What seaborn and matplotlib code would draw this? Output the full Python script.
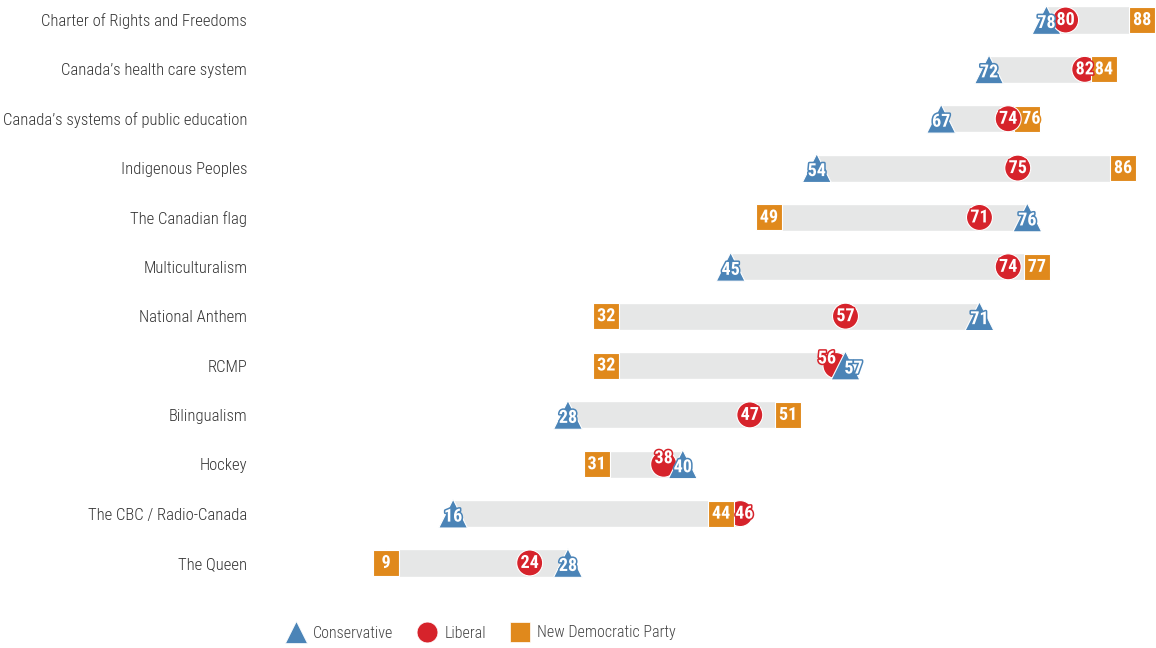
import matplotlib
matplotlib.use("Agg")
import matplotlib.pyplot as plt
from matplotlib import font_manager as fm
from matplotlib.lines import Line2D
import matplotlib.patheffects as pe
import seaborn as sns
import pandas as pd
import numpy as np

# ---------------- data ----------------
categories = [
    "Charter of Rights and Freedoms",
    "Canada\u2019s health care system",
    "Canada\u2019s systems of public education",
    "Indigenous Peoples",
    "The Canadian flag",
    "Multiculturalism",
    "National Anthem",
    "RCMP",
    "Bilingualism",
    "Hockey",
    "The CBC / Radio-Canada",
    "The Queen",
]
conservative = [78, 72, 67, 54, 76, 45, 71, 57, 28, 40, 16, 28]
liberal = [80, 82, 74, 75, 71, 74, 57, 56, 47, 38, 46, 24]
ndp = [88, 84, 76, 86, 49, 77, 32, 32, 51, 31, 44, 9]
parties = ["Conservative", "Liberal", "New Democratic Party"]

# ---------------- style ----------------
colors = {"Conservative": "#4b84b7", "Liberal": "#d6232b", "New Democratic Party": "#e0891c"}
markers = {"Conservative": "^", "Liberal": "o", "New Democratic Party": "s"}
sizes = {"Conservative": 430, "Liberal": 350, "New Democratic Party": 350}
# which marker sits on top when markers overlap
on_top = {
    "Charter of Rights and Freedoms": "Liberal",
    "RCMP": "Conservative",
    "Hockey": "Conservative",
    "The CBC / Radio-Canada": "New Democratic Party",
    "Canada\u2019s systems of public education": "Liberal",
}
# label nudges in pixels (dx right, dy down)
nudges = {
    ("RCMP", "Liberal"): (-9, -7),
    ("RCMP", "Conservative"): (8, 3),
    ("Hockey", "Liberal"): (0, -6),
    ("Hockey", "Conservative"): (0, 3),
    ("The CBC / Radio-Canada", "Liberal"): (4, 0),
    ("Canada\u2019s systems of public education", "New Democratic Party"): (4, 0),
}

available = {f.name for f in fm.fontManager.ttflist}
cond = None
for cand in ["Liberation Sans Narrow", "Roboto Condensed", "Open Sans Condensed", "DejaVu Sans"]:
    if cand in available:
        cond = cand
        break

sns.set_theme(style="white")
plt.rcParams["font.family"] = [cond, "DejaVu Sans"]

W, H, DPI = 1156, 648, 100
fig = plt.figure(figsize=(W / DPI, H / DPI), dpi=DPI)
x0_px = 300
px_per_unit = 9.57
row0_px, row_step = 20, 49.36
ax = fig.add_axes([x0_px / W, 0, (W - x0_px) / W, 1])
ax.set_xlim(0, (W - x0_px) / px_per_unit)
ax.set_ylim((H - row0_px) / row_step, -row0_px / row_step)

# long-form frame
rows = []
for i, c in enumerate(categories):
    for p, vals in zip(parties, [conservative, liberal, ndp]):
        rows.append({"category": c, "row": i, "party": p, "value": vals[i],
                     "layer": 1 if on_top.get(c) == p else 0})
df = pd.DataFrame(rows).sort_values(["layer", "row"], kind="stable")

# range bars
rng = df.groupby("row")["value"].agg(["min", "max"]).reset_index()
ax.barh(rng["row"], rng["max"] - rng["min"], left=rng["min"], height=0.55,
        color="#e6e7e7", zorder=1)

sns.scatterplot(data=df, x="value", y="row", hue="party", style="party", size="party",
                palette=colors, markers=markers, sizes=sizes, edgecolor="white",
                linewidth=0.8, legend=False, ax=ax, zorder=3)

for _, r in df.iterrows():
    key = (r["category"], r["party"])
    dx, dy = nudges.get(key, (0, 0))
    if r["party"] == "Conservative" and key not in nudges:
        dy += 3
    ax.annotate(str(r["value"]), (r["value"], r["row"]),
                xytext=(dx * 0.72, -dy * 0.72), textcoords="offset points",
                ha="center", va="center", color="white", fontweight="bold",
                fontsize=13, zorder=4 + r["layer"],
                path_effects=[pe.withStroke(linewidth=2.2, foreground=colors[r["party"]])])

ax.set_yticks(range(len(categories)))
ax.set_yticklabels(categories, fontsize=12, color="#333333", fontweight="light")
ax.tick_params(axis="y", length=0, pad=38)
ax.set_xticks([])
ax.set_xlabel("")
ax.set_ylabel("")
for s in ax.spines.values():
    s.set_visible(False)

handles = [Line2D([], [], marker=markers[p], color=colors[p], linestyle="none",
                  markersize=16 if p == "Conservative" else 15, markeredgecolor="white",
                  markeredgewidth=0.5)
           for p in parties]
leg = fig.legend(handles, parties, loc="center", bbox_to_anchor=(481 / W, 1 - 633 / H),
                 ncol=3, frameon=False, labelcolor="#444444",
                 handletextpad=0.5, columnspacing=1.5, handlelength=1.2,
                 prop={"weight": "light", "size": 11.5})

fig.savefig("out.png", dpi=DPI)
